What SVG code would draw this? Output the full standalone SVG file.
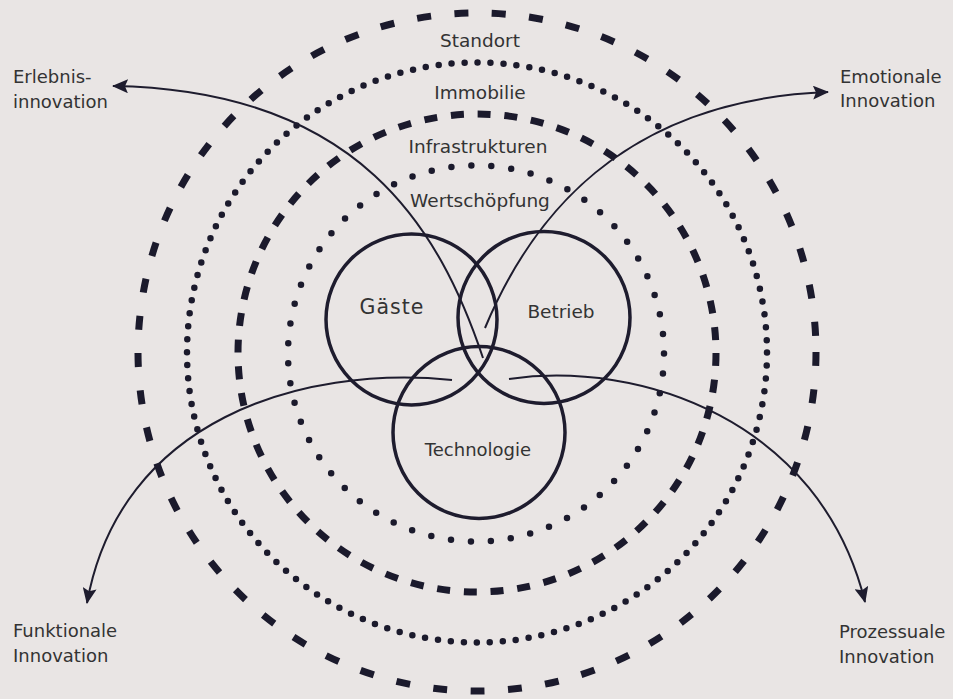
<svg xmlns="http://www.w3.org/2000/svg" width="953" height="699" viewBox="0 0 953 699">
<defs>
<style>
.ring{fill:none;stroke:#1b1a2c}
.dash1{stroke-width:7;stroke-dasharray:14 23.48}
.dash2{stroke-width:7;stroke-dasharray:13 13.82}
.dot1{stroke-width:6.5;stroke-linecap:round;stroke-dasharray:0 13.015}
.dot2{stroke-width:6.5;stroke-linecap:round;stroke-dasharray:0 20.02}
.venn{fill:none;stroke:#1e1c2e;stroke-width:3.5}
.arrow{fill:none;stroke:#1e1c2e;stroke-width:2;marker-end:url(#ah)}
text{font-family:"DejaVu Sans",Verdana,sans-serif;fill:#333333}
.lbl{font-size:18.5px;text-anchor:middle}
.corner{font-size:18px}
</style>
<marker id="ah" viewBox="0 0 16 14" refX="15" refY="7" markerWidth="16" markerHeight="14" orient="auto" markerUnits="userSpaceOnUse">
<path d="M0,0 L16,7 L0,14 L3,7 Z" fill="#1e1c2e"/>
</marker>
</defs>
<rect width="953" height="699" fill="#e9e5e4"/>
<g id="ring-standort">
<circle class="ring dash1" cx="477" cy="352" r="339"/>
<text class="lbl" x="480" y="47">Standort</text>
</g>
<g id="ring-immobilie">
<circle class="ring dot1" cx="477" cy="352.5" r="290"/>
<text class="lbl" x="480" y="99">Immobilie</text>
</g>
<g id="ring-infrastrukturen">
<circle class="ring dash2" cx="477" cy="353" r="239"/>
<text class="lbl" x="478" y="153">Infrastrukturen</text>
</g>
<g id="ring-wertschoepfung">
<circle class="ring dot2" cx="476" cy="353.5" r="188"/>
<text class="lbl" x="480" y="207">Wertschöpfung</text>
</g>
<g id="connectors">
<path class="arrow" d="M483 358 C440 230 360 90 113 86"/>
<path class="arrow" d="M485 328 C530 220 620 100 828 92"/>
<path class="arrow" d="M452 380 C300 365 120 420 87 603"/>
<path class="arrow" d="M509 379 C640 360 820 420 865 602"/>
</g>
<g id="gaeste">
<circle class="venn" cx="411.5" cy="319.5" r="85.5"/>
<text x="392" y="314" font-size="20.5" text-anchor="middle" letter-spacing="1">Gäste</text>
</g>
<g id="betrieb">
<circle class="venn" cx="544" cy="317.5" r="86"/>
<text x="561" y="318" font-size="18.5" text-anchor="middle">Betrieb</text>
</g>
<g id="technologie">
<circle class="venn" cx="479" cy="432.5" r="86"/>
<text x="478" y="456" font-size="18" text-anchor="middle">Technologie</text>
</g>
<g id="erlebnis">
<text class="corner" x="13" y="83">Erlebnis-</text>
<text class="corner" x="13" y="108">innovation</text>
</g>
<g id="emotionale">
<text class="corner" x="840" y="83">Emotionale</text>
<text class="corner" x="840" y="107">Innovation</text>
</g>
<g id="funktionale">
<text class="corner" x="13" y="637">Funktionale</text>
<text class="corner" x="13" y="662">Innovation</text>
</g>
<g id="prozessuale">
<text class="corner" x="839" y="638">Prozessuale</text>
<text class="corner" x="839" y="663">Innovation</text>
</g>
</svg>
